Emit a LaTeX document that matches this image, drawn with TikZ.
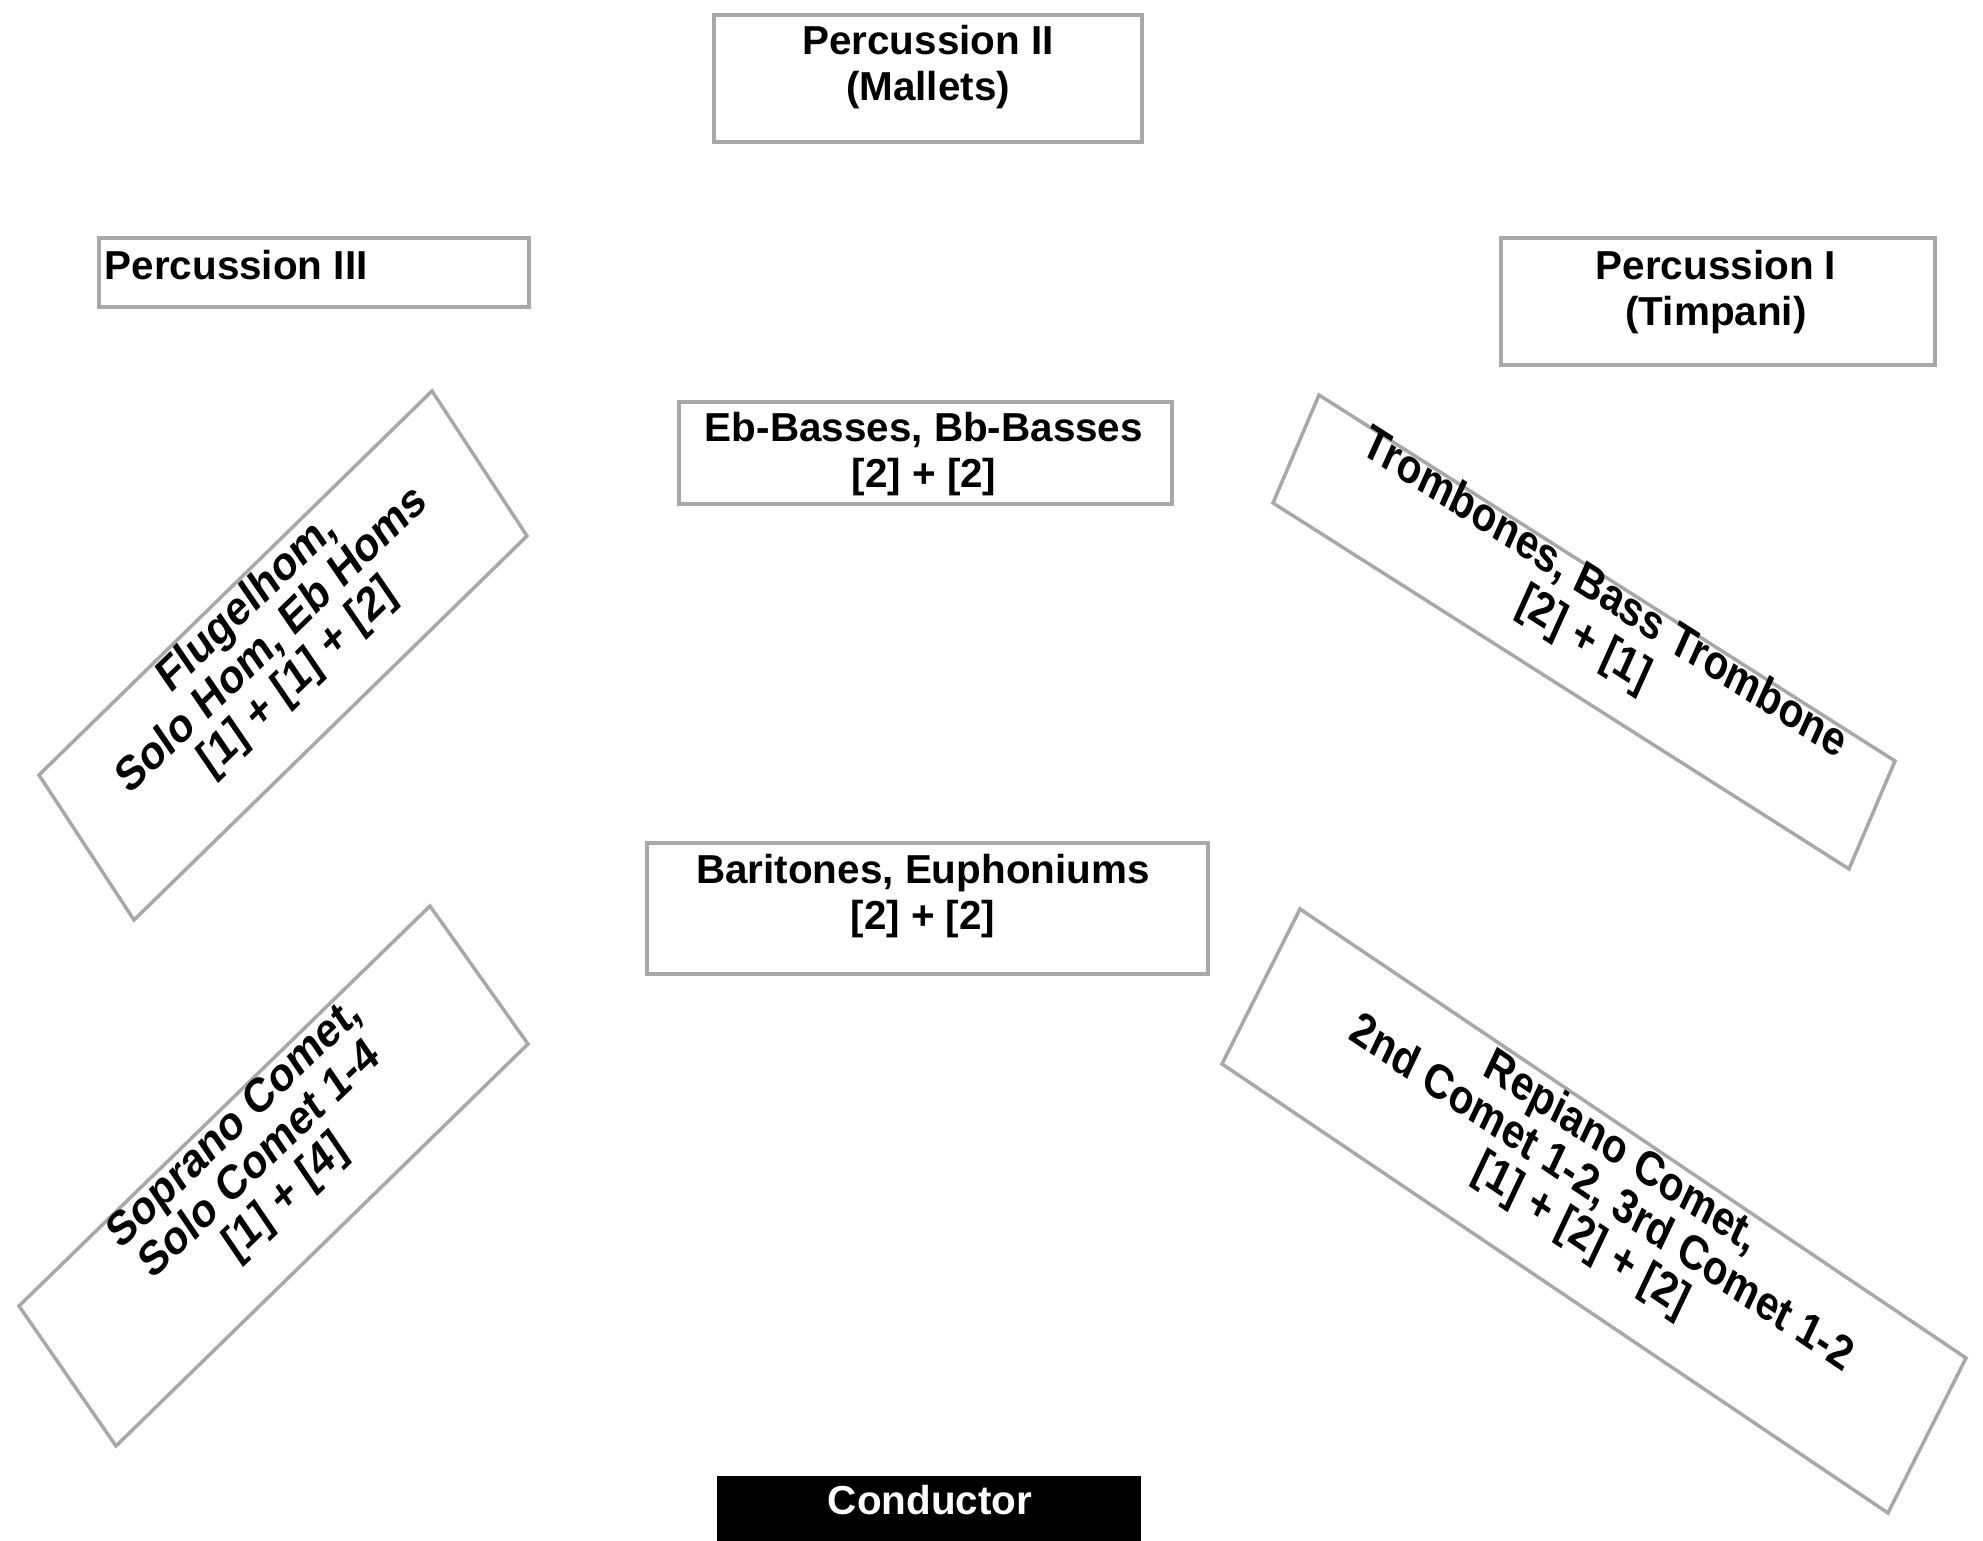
\documentclass[tikz,border=0pt]{standalone}
\usepackage{fontspec}
\setmainfont{Liberation Sans}
\definecolor{boxgray}{HTML}{A8A8A8}
\tikzset{
  box/.style={draw=boxgray, line width=0.35mm, line join=miter},
  lbl/.style={font=\bfseries\fontsize{11.5}{13.1}\selectfont, inner sep=0pt, align=center},
  rlbl/.style={font=\bfseries\fontsize{11.5}{11.4}\selectfont, inner sep=0pt, align=center, transform shape},
}
\begin{document}
\begin{tikzpicture}[x=0.1mm,y=-0.1mm]
\useasboundingbox (0,0) rectangle (1983,1541);
% upright boxes
\draw[box] (714,15) rectangle (1142,142);
\draw[box] (99,238) rectangle (529,307);
\draw[box] (1501,238) rectangle (1935,365);
\draw[box] (679,402) rectangle (1172,504);
\draw[box] (647,843) rectangle (1208,974);
\fill[black] (717,1476) rectangle (1141,1541);
% slanted boxes
\draw[box] (432,391) -- (527,536) -- (134,920) -- (39,775) -- cycle;
\draw[box] (430,906) -- (528,1044) -- (116,1446) -- (19,1306) -- cycle;
\draw[box] (1319,395) -- (1895,761) -- (1849,869) -- (1273,503) -- cycle;
\draw[box] (1300,909) -- (1966,1358) -- (1888,1513) -- (1222,1064) -- cycle;
% upright labels
\node[lbl] (perc2) at (928,67) {Percussion II\\(Mallets)};
\node[lbl, anchor=base west] (perc3) at (104,280) {Percussion III};
\node[lbl] (perc1) at (1716,292) {Percussion I\\(Timpani)};
\node[lbl] (basses) at (924,454) {Eb-Basses, Bb-Basses\\{[2] + [2]}};
\node[lbl] (baritones) at (923,896) {Baritones, Euphoniums\\{[2] + [2]}};
\node[lbl, text=white, anchor=base] (conductor) at (930,1515) {Conductor};
% slanted labels
\begin{scope}[yscale=1.19]
\node[rlbl, rotate=39.2] (horns) at (273,538.7) {Flugelhom,\\Solo Hom, Eb Homs\\{[1] + [1] + [2]}};
\node[rlbl, rotate=39.0] (sopcornet) at (261,976) {Soprano Comet,\\Solo Comet 1-4\\{[1] + [4]}};
\node[rlbl, rotate=-28.3, font=\bfseries\fontsize{11.5}{12.2}\selectfont] (trombones) at (1594,519) {Trombones, Bass Trombone\\{[2] + [1]}};
\node[rlbl, rotate=-29.5] (repiano) at (1601,1004.2) {Repiano Comet,\\2nd Comet 1-2, 3rd Comet 1-2\\{[1] + [2] + [2]}};
\end{scope}
\end{tikzpicture}
\end{document}
